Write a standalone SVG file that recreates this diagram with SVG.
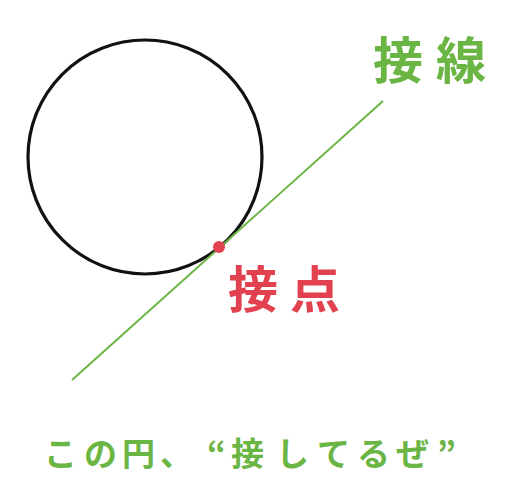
<svg xmlns="http://www.w3.org/2000/svg" width="512" height="487" viewBox="0 0 512 487">
<style>
.jp{font-family:"Noto Sans CJK JP","Noto Sans CJK SC",sans-serif;font-weight:bold}
.g{fill:#6bb544}
.r{fill:#e2424f}
</style>
<rect width="512" height="487" fill="#ffffff"/>
<g id="circle"><circle cx="145" cy="157" r="117" fill="none" stroke="#111111" stroke-width="3.2"/></g>
<g id="connectors"><line x1="72" y1="380" x2="383" y2="101" stroke="#6bb544" stroke-width="2"/></g>
<g id="point"><circle cx="219" cy="247" r="6" fill="#e2424f"/></g>
<g id="label-tangent"><text class="jp g" font-size="50" x="373 436" y="79">接線</text></g>
<g id="label-point"><text class="jp r" font-size="50" x="228 290" y="308">接点</text></g>
<g id="caption"><text class="jp g" font-size="33" x="44 84 122 160 207 231 276 317 357 396 437" y="466">この円、“接してるぜ”</text></g>
</svg>
